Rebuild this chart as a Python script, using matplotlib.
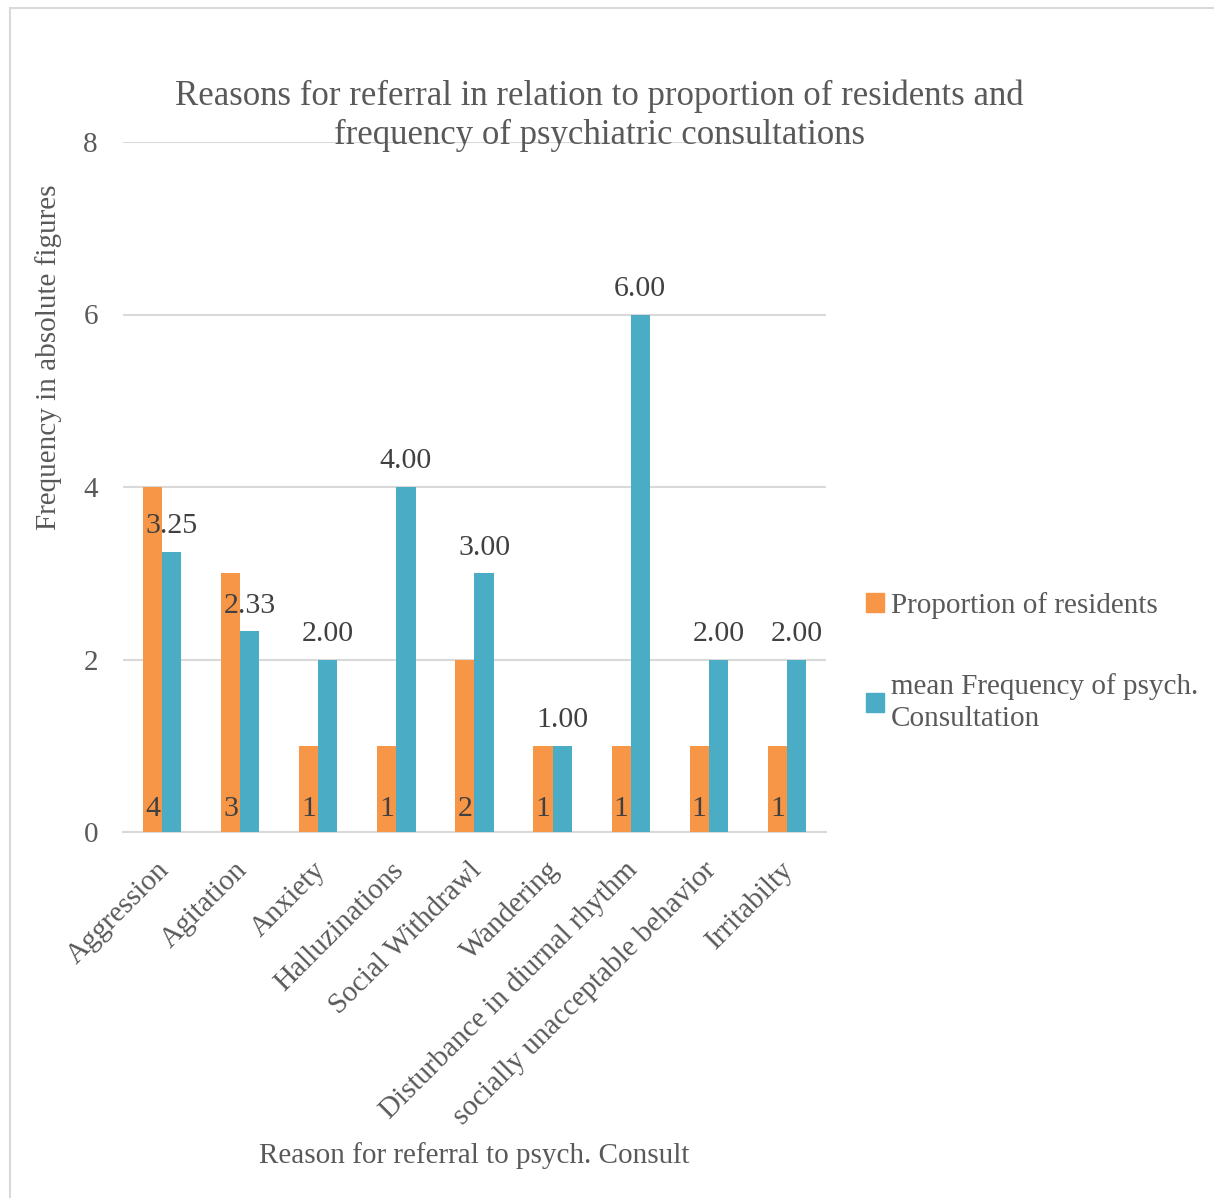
import matplotlib.pyplot as plt
import numpy as np
from matplotlib.patches import Patch, Rectangle
from matplotlib.transforms import ScaledTranslation

# data
categories = ["Aggression", "Agitation", "Anxiety", "Halluzinations", "Social Withdrawl",
              "Wandering", "Disturbance in diurnal rhythm", "socially unacceptable behavior",
              "Irritabilty"]
residents = [4, 3, 1, 1, 2, 1, 1, 1, 1]
mean_freq = [3.25, 2.33, 2.00, 4.00, 3.00, 1.00, 6.00, 2.00, 2.00]
y_ticks = [0, 2, 4, 6, 8]

ORANGE = "#F79646"
BLUE = "#4BACC6"
TXT = "#595959"
LBL = "#404040"
GRID = "#D9D9D9"
FS = 21

plt.rcParams['font.family'] = ['Liberation Serif', 'DejaVu Serif']

fig = plt.figure(figsize=(12.14, 11.98), dpi=100)
W, H = 1214, 1198
ax = fig.add_axes([123 / W, 1 - 832 / H, (826 - 123) / W, (832 - 142) / H])

# outer chart border (left/top visible)
fig.patches.append(Rectangle((10 / W, -0.01), 1.02, 1 - 8 / H + 0.01,
                             transform=fig.transFigure, fill=False,
                             edgecolor=GRID, linewidth=1.5, clip_on=False))

x = np.arange(len(categories))
w = 0.245
b1 = ax.bar(x - w / 2, residents, w, color=ORANGE, zorder=3)
b2 = ax.bar(x + w / 2, mean_freq, w, color=BLUE, zorder=3)

ax.set_xlim(-0.5, len(categories) - 0.5)
ax.set_ylim(0, 8)
ax.set_yticks(y_ticks)
ax.set_yticklabels([str(t) for t in y_ticks], fontsize=FS, color=TXT)
ax.yaxis.grid(True, color=GRID, linewidth=1.5, zorder=0)
ax.tick_params(axis='both', length=0)
ax.tick_params(axis='y', pad=18)
for s in ["top", "right", "left"]:
    ax.spines[s].set_visible(False)
ax.spines["bottom"].set_color(GRID)
ax.spines["bottom"].set_linewidth(1.5)

ax.set_xticks(x)
ax.set_xticklabels(categories, rotation=45, ha='right', va='top',
                   rotation_mode='anchor', fontsize=FS, color=TXT)
ax.tick_params(axis='x', pad=18)
shift = ScaledTranslation(-6 / 100, 0, fig.dpi_scale_trans)
for lab in ax.get_xticklabels():
    lab.set_transform(lab.get_transform() + shift)

# labels: blue above bars, orange at base
ax.bar_label(b2, labels=[f"{v:.2f}" for v in mean_freq], padding=9,
             fontsize=21.5, color=LBL)
for xi, v in zip(x - w / 2, residents):
    ax.text(xi, 0.12, str(v), ha='center', va='bottom', fontsize=21.5, color=LBL, zorder=4)

fig.text(599 / W, 1 - 116 / H,
         "Reasons for referral in relation to proportion of residents and\n"
         "frequency of psychiatric consultations",
         ha='center', va='center', fontsize=25, color=TXT, linespacing=1.25)
fig.text(49 / W, 1 - 357 / H, "Frequency in absolute figures", rotation=90,
         ha='center', va='center', fontsize=FS, color=TXT)
fig.text(474 / W, 1 - 1156 / H, "Reason for referral to psych. Consult",
         ha='center', va='center', fontsize=FS, color=TXT)

handles = [Patch(color=ORANGE), Patch(color=BLUE)]
leg = fig.legend(handles, ["Proportion of residents", "mean Frequency of psych.\nConsultation"],
                 loc='upper left', bbox_to_anchor=(866 / W, 1 - 592 / H),
                 frameon=False, fontsize=FS, labelcolor=TXT,
                 handlelength=0.6, handleheight=0.6, handletextpad=0.25,
                 labelspacing=1.85, borderaxespad=0, borderpad=0)
for t in leg.get_texts():
    t.set_linespacing(1.32)

fig.savefig("out.png", dpi=100)
